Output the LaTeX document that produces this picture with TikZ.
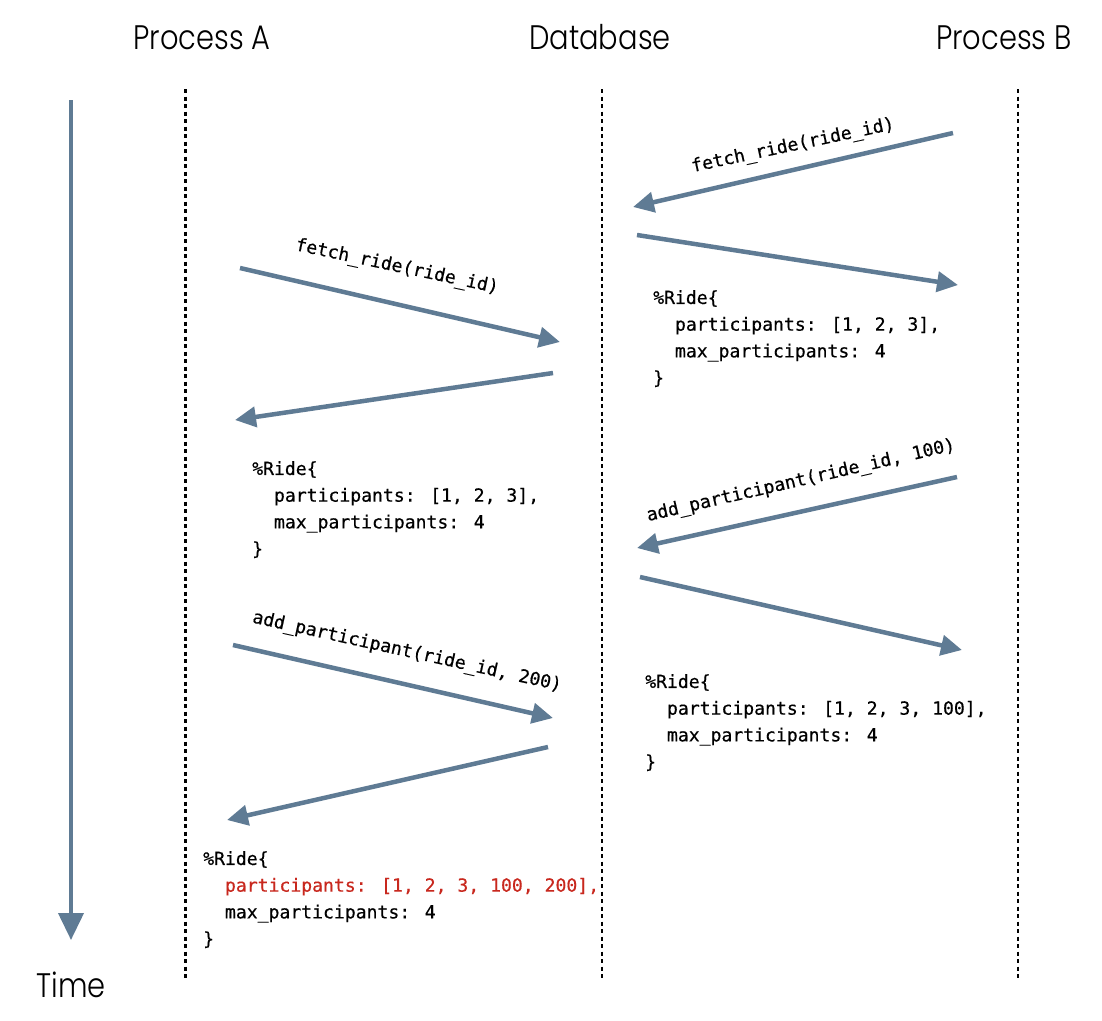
\documentclass[tikz,border=0pt]{standalone}
\usepackage{fontspec}
\usetikzlibrary{arrows.meta}
\newfontfamily\codefont[FakeBold=0.5]{DejaVu Sans Mono}
\newfontfamily\headfont[FakeStretch=0.85, UprightFont={* Light}]{Poppins}
\definecolor{arrowblue}{HTML}{5F7B94}
\definecolor{hilite}{HTML}{C8281E}
\newcommand\ind{\phantom{xx}}
\tikzset{
  msg/.style={draw=arrowblue, line width=4.5pt, -{Triangle[length=21pt,width=20pt]}},
  timeline/.style={draw=arrowblue, line width=4pt, -{Triangle[length=27pt,width=25pt]}},
  lifeline/.style={draw=black, line width=2.2pt, dash pattern=on 4pt off 3.5pt},
  heading/.style={font=\headfont\fontsize{34}{38}\selectfont, anchor=base, inner sep=0pt},
  code/.style={font=\codefont\fontsize{18.1}{26.7}\selectfont, align=left, anchor=north west, inner sep=0pt},
  call/.style={font=\codefont\fontsize{18.1}{21}\selectfont, inner sep=0pt}
}
\begin{document}
\begin{tikzpicture}[x=1pt,y=-1pt]
\useasboundingbox (0,0) rectangle (1102,1020);

% headings
\node[heading] (hA) at (202,49) {Process A};
\node[heading] (hD) at (600,49) {Database};
\node[heading] (hB) at (1004,49) {Process B};
\node[heading] (time) at (71,997) {Time};

% lifelines
\coordinate (la1) at (185.5,89);  \coordinate (la2) at (185.5,978);
\coordinate (ld1) at (602,89);    \coordinate (ld2) at (602,978);
\coordinate (lb1) at (1018,89);   \coordinate (lb2) at (1018,978);
\draw[lifeline] (la1) -- (la2);
\draw[lifeline] (ld1) -- (ld2);
\draw[lifeline] (lb1) -- (lb2);

% time arrow
\coordinate (t1) at (71,100);
\coordinate (t2) at (71,940);
\draw[timeline] (t1) -- (t2);

% Process B fetch
\coordinate (b1s) at (953,133); \coordinate (b1e) at (633,207);
\coordinate (b2s) at (637,235); \coordinate (b2e) at (958,285);
\draw[msg] (b1s) -- (b1e);
\draw[msg] (b2s) -- (b2e);
\node[call, rotate=12] (lbl1) at (793,146) {fetch\_ride(ride\_id)};

% Process A fetch
\coordinate (a1s) at (240,268); \coordinate (a1e) at (560,342);
\coordinate (a2s) at (553,373); \coordinate (a2e) at (235,420);
\draw[msg] (a1s) -- (a1e);
\draw[msg] (a2s) -- (a2e);
\node[call, rotate=-12] (lbl2) at (397,267) {fetch\_ride(ride\_id)};

% Process B add
\coordinate (b3s) at (957,477); \coordinate (b3e) at (637,548);
\coordinate (b4s) at (640,577); \coordinate (b4e) at (962,650);
\draw[msg] (b3s) -- (b3e);
\draw[msg] (b4s) -- (b4e);
\node[call, rotate=13] (lbl3) at (801,481) {add\_participant(ride\_id, 100)};

% Process A add
\coordinate (a3s) at (233,645); \coordinate (a3e) at (553,718);
\coordinate (a4s) at (548,747); \coordinate (a4e) at (227,820);
\draw[msg] (a3s) -- (a3e);
\draw[msg] (a4s) -- (a4e);
\node[call, rotate=-12.5] (lbl4) at (407,652) {add\_participant(ride\_id, 200)};

% code blocks
\node[code] (cb1) at (653,290) {\%Ride\{\\\ind participants: [1, 2, 3],\\\ind max\_participants: 4\\\}};
\node[code] (ca1) at (252,461) {\%Ride\{\\\ind participants: [1, 2, 3],\\\ind max\_participants: 4\\\}};
\node[code] (cb2) at (645,674) {\%Ride\{\\\ind participants: [1, 2, 3, 100],\\\ind max\_participants: 4\\\}};
\node[code] (ca2) at (203,851) {\%Ride\{\\\ind\textcolor{hilite}{participants: [1, 2, 3, 100, 200],}\\\ind max\_participants: 4\\\}};
\end{tikzpicture}
\end{document}
